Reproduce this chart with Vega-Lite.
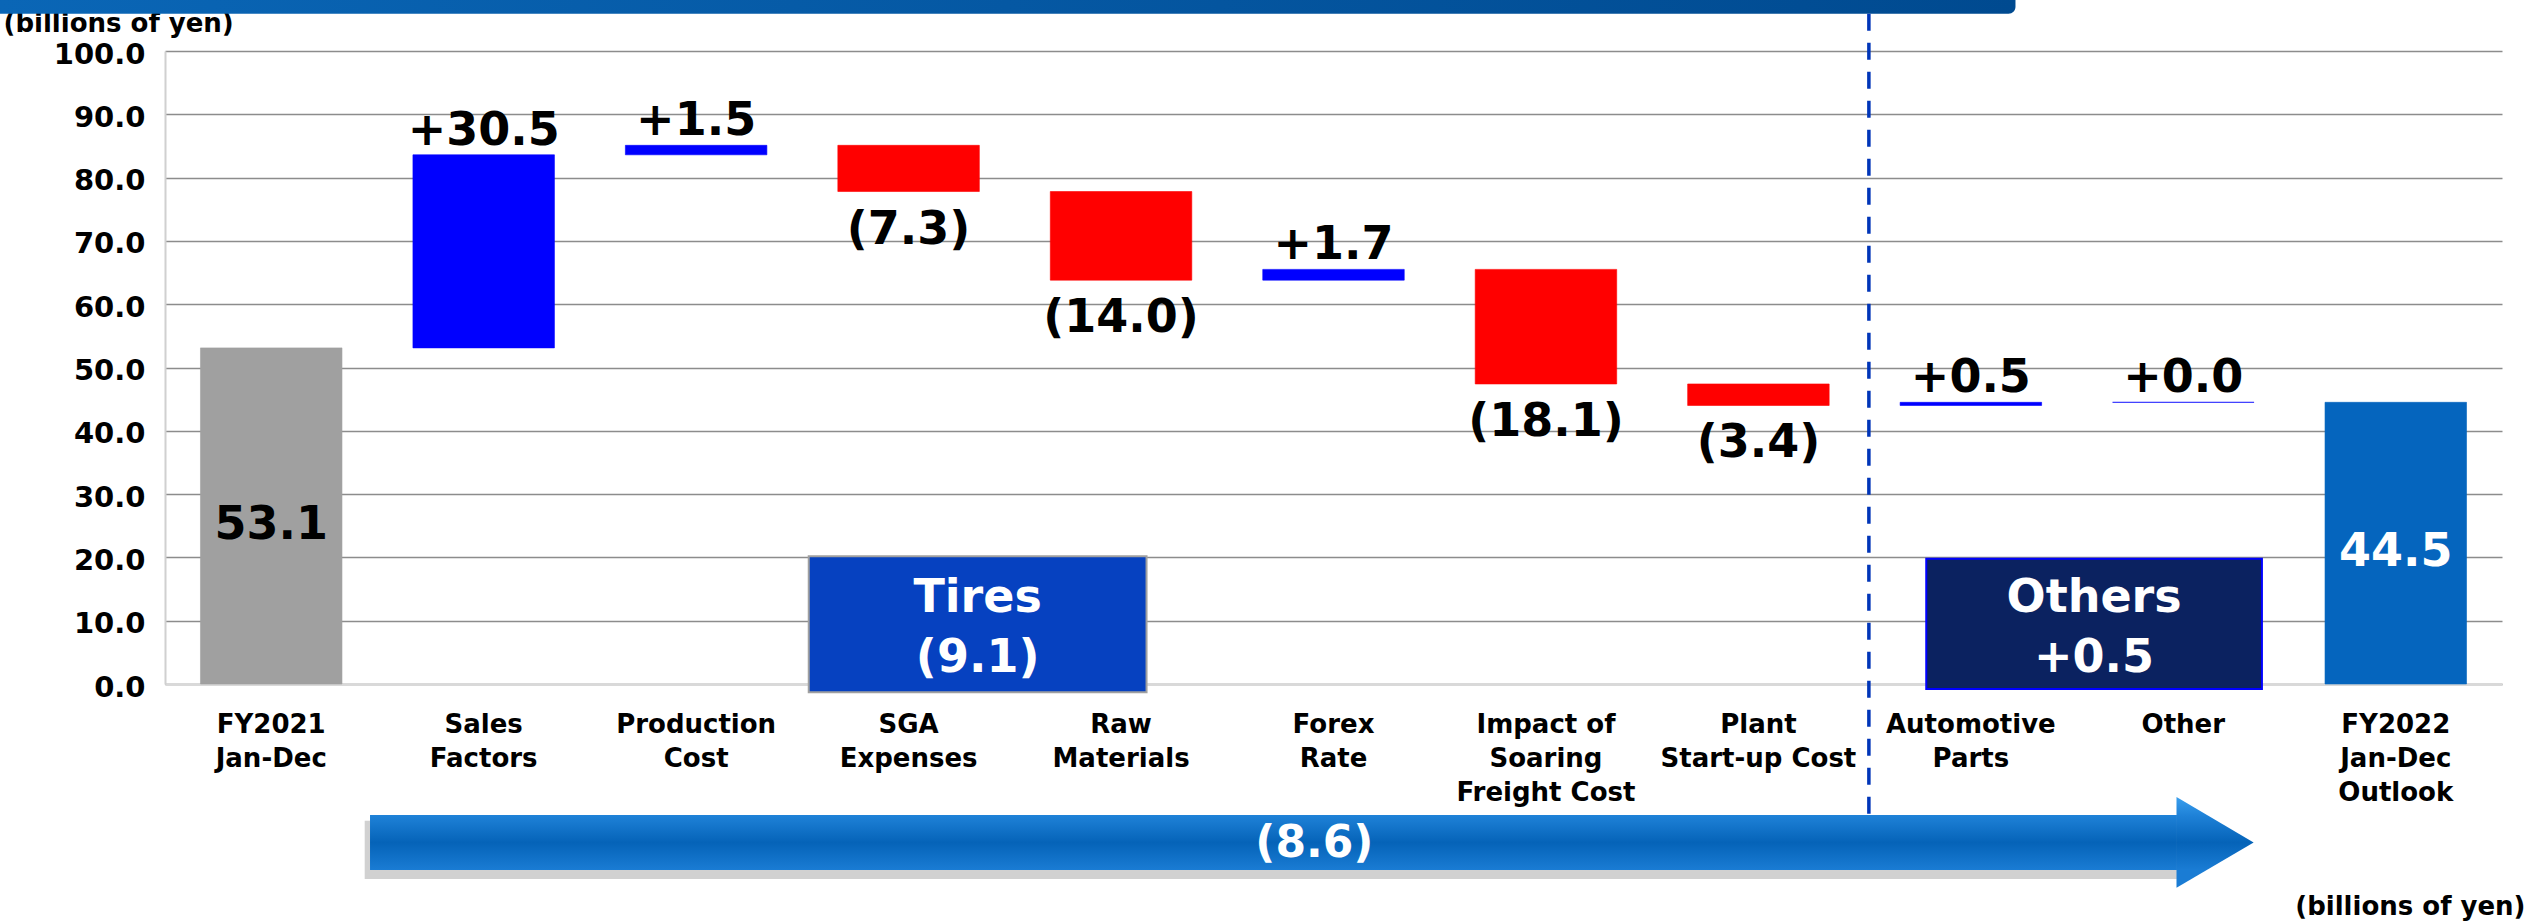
{
  "$schema": "https://vega.github.io/schema/vega-lite/v6.json",
  "width": 2337,
  "height": 633,
  "autosize": {"type": "none"},
  "padding": {"left": 165, "top": 51, "right": 27, "bottom": 238},
  "background": "white",
  "config": {"view": {"stroke": null}, "font": "DejaVu Sans"},
  "resolve": {"scale": {"x": "independent"}},
  "layer": [
    {
      "data": {"values": [
        {"cat": "FY2021|Jan-Dec", "start": 0, "end": 53.1, "kind": "total1", "txt": "53.1"},
        {"cat": "Sales|Factors", "start": 53.1, "end": 83.6, "kind": "up", "txt": "+30.5"},
        {"cat": "Production|Cost", "start": 83.6, "end": 85.1, "kind": "up", "txt": "+1.5"},
        {"cat": "SGA|Expenses", "start": 85.1, "end": 77.8, "kind": "down", "txt": "(7.3)"},
        {"cat": "Raw|Materials", "start": 77.8, "end": 63.8, "kind": "down", "txt": "(14.0)"},
        {"cat": "Forex|Rate", "start": 63.8, "end": 65.5, "kind": "up", "txt": "+1.7"},
        {"cat": "Impact of|Soaring|Freight Cost", "start": 65.5, "end": 47.4, "kind": "down", "txt": "(18.1)"},
        {"cat": "Plant|Start-up Cost", "start": 47.4, "end": 44.0, "kind": "down", "txt": "(3.4)"},
        {"cat": "Automotive|Parts", "start": 44.0, "end": 44.5, "kind": "up", "txt": "+0.5"},
        {"cat": "Other", "start": 44.5, "end": 44.5, "kind": "up", "txt": "+0.0"},
        {"cat": "FY2022|Jan-Dec|Outlook", "start": 0, "end": 44.5, "kind": "total2", "txt": "44.5"}
      ]},
      "layer": [
        {
          "mark": {"type": "bar", "width": {"band": 0.666}, "strokeWidth": 0.6},
          "encoding": {
            "x": {
              "field": "cat", "type": "nominal", "sort": null,
              "scale": {"paddingInner": 0, "paddingOuter": 0},
              "axis": {
                "title": "(billions of yen)",
                "labelExpr": "split(datum.label, '|')",
                "labelAngle": 0,
                "labelFont": "DejaVu Sans",
                "labelFontSize": 26,
                "labelFontWeight": "bold",
                "labelColor": "black",
                "labelLineHeight": 34,
                "labelPadding": 27,
                "labelBaseline": "top",
                "labelLimit": 0,
                "labelOverlap": false,
                "ticks": false,
                "tickSize": 0,
                "grid": false,
                "domainColor": "#D9D9D9",
                "domainWidth": 3,
                "titleX": 2360,
                "titleY": 222,
                "titleAlign": "right",
                "titleBaseline": "middle",
                "titleFont": "DejaVu Sans",
                "titleFontSize": 26,
                "titleFontWeight": "bold",
                "titleColor": "black"
              }
            },
            "y": {
              "field": "start", "type": "quantitative",
              "scale": {"domain": [0, 100], "nice": false, "zero": false},
              "axis": {
                "title": "(billions of yen)",
                "values": [0, 10, 20, 30, 40, 50, 60, 70, 80, 90, 100],
                "format": ".1f",
                "labelFont": "DejaVu Sans",
                "labelFontSize": 29,
                "labelFontWeight": "bold",
                "labelColor": "black",
                "labelPadding": 20,
                "labelOffset": 3,
                "labelFlush": false,
                "labelOverlap": false,
                "ticks": false,
                "tickSize": 0,
                "domainColor": "#D0D0D0",
                "domainWidth": 2,
                "grid": true,
                "gridColor": "#8C8C8C",
                "gridWidth": 1.5,
                "titleAngle": 0,
                "titleAlign": "left",
                "titleBaseline": "middle",
                "titleX": -162,
                "titleY": -28,
                "titleFont": "DejaVu Sans",
                "titleFontSize": 26,
                "titleFontWeight": "bold",
                "titleColor": "black"
              }
            },
            "y2": {"field": "end"},
            "color": {
              "field": "kind", "type": "nominal",
              "scale": {"domain": ["total1", "up", "down", "total2"], "range": ["#A0A0A0", "#0000FF", "#FF0000", "#0565BE"]},
              "legend": null
            },
            "stroke": {
              "field": "kind", "type": "nominal",
              "scale": {"domain": ["total1", "up", "down", "total2"], "range": ["#A0A0A0", "#0000FF", "#FF0000", "#0565BE"]},
              "legend": null
            }
          }
        },
        {
          "transform": [
            {"filter": "datum.kind === 'total1' || datum.kind === 'total2'"},
            {"calculate": "(datum.start + datum.end) / 2", "as": "mid"}
          ],
          "mark": {"type": "text", "fontSize": 46, "fontWeight": "bold", "baseline": "middle", "align": "center", "dy": 9},
          "encoding": {
            "x": {"field": "cat", "type": "nominal", "sort": null},
            "y": {"field": "mid", "type": "quantitative"},
            "text": {"field": "txt"},
            "color": {"condition": {"test": "datum.kind === 'total2'", "value": "white"}, "value": "black"}
          }
        },
        {
          "transform": [{"filter": "datum.kind === 'up'"}],
          "mark": {"type": "text", "fontSize": 46, "fontWeight": "bold", "baseline": "alphabetic", "align": "center", "dy": -10, "color": "black"},
          "encoding": {
            "x": {"field": "cat", "type": "nominal", "sort": null},
            "y": {"field": "end", "type": "quantitative"},
            "text": {"field": "txt"}
          }
        },
        {
          "transform": [{"filter": "datum.kind === 'down'"}],
          "mark": {"type": "text", "fontSize": 46, "fontWeight": "bold", "baseline": "alphabetic", "align": "center", "dy": 52, "color": "black"},
          "encoding": {
            "x": {"field": "cat", "type": "nominal", "sort": null},
            "y": {"field": "end", "type": "quantitative"},
            "text": {"field": "txt"}
          }
        }
      ]
    },
    {
      "layer": [
        {
          "data": {"values": [{"x0": -0.78, "x1": 8.71, "y0": 108.1, "y1": 105.9}]},
          "mark": {"type": "rect", "cornerRadiusBottomRight": 12,
            "color": {"gradient": "linear", "x1": 0, "y1": 0, "x2": 1, "y2": 0,
              "stops": [{"offset": 0, "color": "#0A66B6"}, {"offset": 1, "color": "#004A90"}]}},
          "encoding": {
            "x": {"field": "x0", "type": "quantitative", "scale": {"domain": [0, 11], "nice": false, "zero": false}, "axis": null},
            "x2": {"field": "x1"},
            "y": {"field": "y0", "type": "quantitative"},
            "y2": {"field": "y1"}
          }
        },
        {
          "data": {"values": [{"xq": 8.02, "top": 105.9, "bot": -20.7}]},
          "mark": {"type": "rule", "color": "#0035B8", "strokeWidth": 3.5, "strokeDash": [17, 12]},
          "encoding": {
            "x": {"field": "xq", "type": "quantitative", "axis": null},
            "y": {"field": "top", "type": "quantitative"},
            "y2": {"field": "bot"}
          }
        },
        {
          "data": {"values": [
            {"name": "Tires", "x0": 3.03, "x1": 4.62, "y0": -1.3, "y1": 20.2},
            {"name": "Others", "x0": 8.29, "x1": 9.87, "y0": -0.8, "y1": 19.8}
          ]},
          "mark": {"type": "rect", "strokeWidth": 2},
          "encoding": {
            "x": {"field": "x0", "type": "quantitative", "axis": null},
            "x2": {"field": "x1"},
            "y": {"field": "y0", "type": "quantitative"},
            "y2": {"field": "y1"},
            "fill": {"field": "name", "type": "nominal", "scale": {"domain": ["Tires", "Others"], "range": ["#0641C0", "#0B2260"]}, "legend": null},
            "stroke": {"field": "name", "type": "nominal", "scale": {"domain": ["Tires", "Others"], "range": ["#052E92", "#061A48"]}, "legend": null}
          }
        },
        {
          "data": {"values": [
            {"lines": ["Tires", "(9.1)"], "xc": 3.825, "yc": 13.6},
            {"lines": ["Others", "+0.5"], "xc": 9.08, "yc": 13.6}
          ]},
          "mark": {"type": "text", "fontSize": 46, "fontWeight": "bold", "color": "white", "lineHeight": 60, "baseline": "middle", "align": "center"},
          "encoding": {
            "x": {"field": "xc", "type": "quantitative", "axis": null},
            "y": {"field": "yc", "type": "quantitative"},
            "text": {"field": "lines"}
          }
        },
        {
          "data": {"values": [{"x0": 0.94, "x1": 9.47, "hi": -21.6, "lo": -30.8}]},
          "mark": {"type": "rect", "color": "#7A7A7A", "opacity": 0.35},
          "encoding": {
            "x": {"field": "x0", "type": "quantitative", "axis": null},
            "x2": {"field": "x1"},
            "y": {"field": "hi", "type": "quantitative"},
            "y2": {"field": "lo"}
          }
        },
        {
          "data": {"values": [{"x0": 0.965, "x1": 9.47, "hi": -20.7, "lo": -29.4}]},
          "mark": {"type": "rect",
            "color": {"gradient": "linear", "x1": 0, "y1": 0, "x2": 0, "y2": 1,
              "stops": [
                {"offset": 0, "color": "#1F82D8"},
                {"offset": 0.5, "color": "#0563B8"},
                {"offset": 1, "color": "#1A7CD4"}
              ]}},
          "encoding": {
            "x": {"field": "x0", "type": "quantitative", "axis": null},
            "x2": {"field": "x1"},
            "y": {"field": "hi", "type": "quantitative"},
            "y2": {"field": "lo"}
          }
        },
        {
          "data": {"values": [
            {"xq": 9.468, "hi": -17.85, "lo": -32.2},
            {"xq": 9.831, "hi": -25.05, "lo": -25.05}
          ]},
          "mark": {"type": "area", "orient": "vertical", "interpolate": "linear",
            "color": {"gradient": "linear", "x1": 0, "y1": 0, "x2": 0, "y2": 1,
              "stops": [
                {"offset": 0, "color": "#3A9FEE"},
                {"offset": 0.2, "color": "#1F82D8"},
                {"offset": 0.5, "color": "#0563B8"},
                {"offset": 0.8, "color": "#1A7CD4"},
                {"offset": 1, "color": "#1A7CD4"}
              ]}},
          "encoding": {
            "x": {"field": "xq", "type": "quantitative", "axis": null},
            "y": {"field": "hi", "type": "quantitative"},
            "y2": {"field": "lo"}
          }
        },
        {
          "data": {"values": [{"txt": "(8.6)", "xq": 5.41, "yq": -25.2}]},
          "mark": {"type": "text", "fontSize": 44, "fontWeight": "bold", "color": "white", "baseline": "middle", "align": "center"},
          "encoding": {
            "x": {"field": "xq", "type": "quantitative", "axis": null},
            "y": {"field": "yq", "type": "quantitative"},
            "text": {"field": "txt"}
          }
        }
      ]
    }
  ]
}
